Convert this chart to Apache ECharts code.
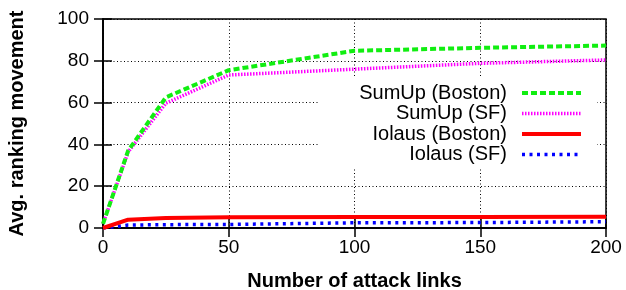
<!DOCTYPE html>
<html>
<head>
<meta charset="utf-8">
<script src="https://cdn.jsdelivr.net/npm/echarts@6/dist/echarts.min.js"></script>
<style>html,body{margin:0;padding:0;background:#fff}#c{width:626px;height:290px}</style>
</head>
<body>
<div id="c"></div>
<script>
const attackLinks = [0, 10, 25, 50, 100, 150, 200];
const sumUpBoston = [2, 37, 62.5, 75.5, 84.8, 86.2, 87.3];
const sumUpSF = [2, 36.4, 59.7, 73.2, 76, 78.8, 80.4];
const iolausBoston = [0, 4, 4.8, 5.1, 5.3, 5.3, 5.4];
const iolausSF = [0, 1.4, 1.6, 1.7, 2.5, 2.6, 3.0];
const seriesNames = ['SumUp (Boston)', 'SumUp (SF)', 'Iolaus (Boston)', 'Iolaus (SF)'];
const xTicks = [0, 50, 100, 150, 200];
const yTicks = [0, 20, 40, 60, 80, 100];

const FONT = "'Liberation Sans', Arial, Helvetica, sans-serif";
const colors = ['#11ee11', '#ff00ff', '#ff0000', '#0000ff'];
const widths = [4, 3.5, 4, 3.5];
const dashes = [[6, 3], [1.5, 1.5], 'solid', [3, 4.5]];
const allData = [sumUpBoston, sumUpSF, iolausBoston, iolausSF];

const pair = arr => attackLinks.map((x, i) => [x, arr[i]]);

const chart = echarts.init(document.getElementById('c'), null, {renderer: 'canvas'});

const grid = {left: 103, right: 20, top: 19, bottom: 62, containLabel: false, outerBoundsMode: 'none', show: true, borderColor: '#000', borderWidth: 1.5, backgroundColor: 'transparent'};

const commonX = {type: 'value', min: xTicks[0], max: xTicks[xTicks.length - 1], interval: 50};
const commonY = {type: 'value', min: yTicks[0], max: yTicks[yTicks.length - 1], interval: 20};

const option = {
  animation: false,
  grid: grid,
  xAxis: [
    Object.assign({}, commonX, {
      position: 'bottom',
      name: 'Number of attack links',
      nameLocation: 'middle',
      nameGap: 43,
      nameTextStyle: {fontFamily: FONT, fontWeight: 'bold', fontSize: 20, color: '#000'},
      axisLine: {show: true, lineStyle: {color: '#000', width: 1.5}},
      axisTick: {show: true, inside: true, length: 9, lineStyle: {color: '#000', width: 1.5}},
      axisLabel: {fontFamily: FONT, fontSize: 19, color: '#000', margin: 10},
      splitLine: {show: true, lineStyle: {color: '#000', width: 1, type: [1, 2.5]}}
    }),
    Object.assign({}, commonX, {
      position: 'top',
      axisLine: {show: true, lineStyle: {color: '#000', width: 1.5}},
      axisTick: {show: true, inside: true, length: 9, lineStyle: {color: '#000', width: 1.5}},
      axisLabel: {show: false},
      splitLine: {show: false}
    })
  ],
  yAxis: [
    Object.assign({}, commonY, {
      position: 'left',
      name: 'Avg. ranking movement',
      nameLocation: 'middle',
      nameGap: 76,
      nameRotate: 90,
      nameTextStyle: {fontFamily: FONT, fontWeight: 'bold', fontSize: 20, color: '#000'},
      axisLine: {show: true, lineStyle: {color: '#000', width: 1.5}},
      axisTick: {show: true, inside: true, length: 9, lineStyle: {color: '#000', width: 1.5}},
      axisLabel: {fontFamily: FONT, fontSize: 19, color: '#000', margin: 14},
      splitLine: {show: true, lineStyle: {color: '#000', width: 1, type: [1, 2.5]}}
    }),
    Object.assign({}, commonY, {
      position: 'right',
      axisLine: {show: true, lineStyle: {color: '#000', width: 1.5}},
      axisTick: {show: true, inside: true, length: 9, lineStyle: {color: '#000', width: 1.5}},
      axisLabel: {show: false},
      splitLine: {show: false}
    })
  ],
  series: seriesNames.map((name, i) => ({
    name: name,
    type: 'line',
    xAxisIndex: 0,
    yAxisIndex: 0,
    data: pair(allData[i]),
    showSymbol: false,
    symbol: 'none',
    lineStyle: {color: colors[i], width: widths[i], type: dashes[i], cap: 'butt'},
    z: 10 - i
  })),
  graphic: []
};

// Legend box (drawn as graphics, right-aligned text with line samples)
const legendTop = 93, legendStep = 20.5;
option.graphic.push({type: 'rect', shape: {x: 320, y: 78, width: 277, height: 90}, style: {fill: '#fff'}, z: 50, silent: true});
seriesNames.forEach((name, i) => {
  const y = legendTop + i * legendStep;
  option.graphic.push({
    type: 'text', z: 51, silent: true,
    style: {x: 507, y: y, text: name, fill: '#000', font: '20px ' + FONT, textAlign: 'right', textVerticalAlign: 'middle'}
  });
  option.graphic.push({
    type: 'line', z: 51, silent: true,
    shape: {x1: 522, y1: y, x2: 581, y2: y},
    style: {stroke: colors[i], lineWidth: widths[i], lineDash: dashes[i] === 'solid' ? null : dashes[i]}
  });
});

chart.setOption(option);
</script>
</body>
</html>
